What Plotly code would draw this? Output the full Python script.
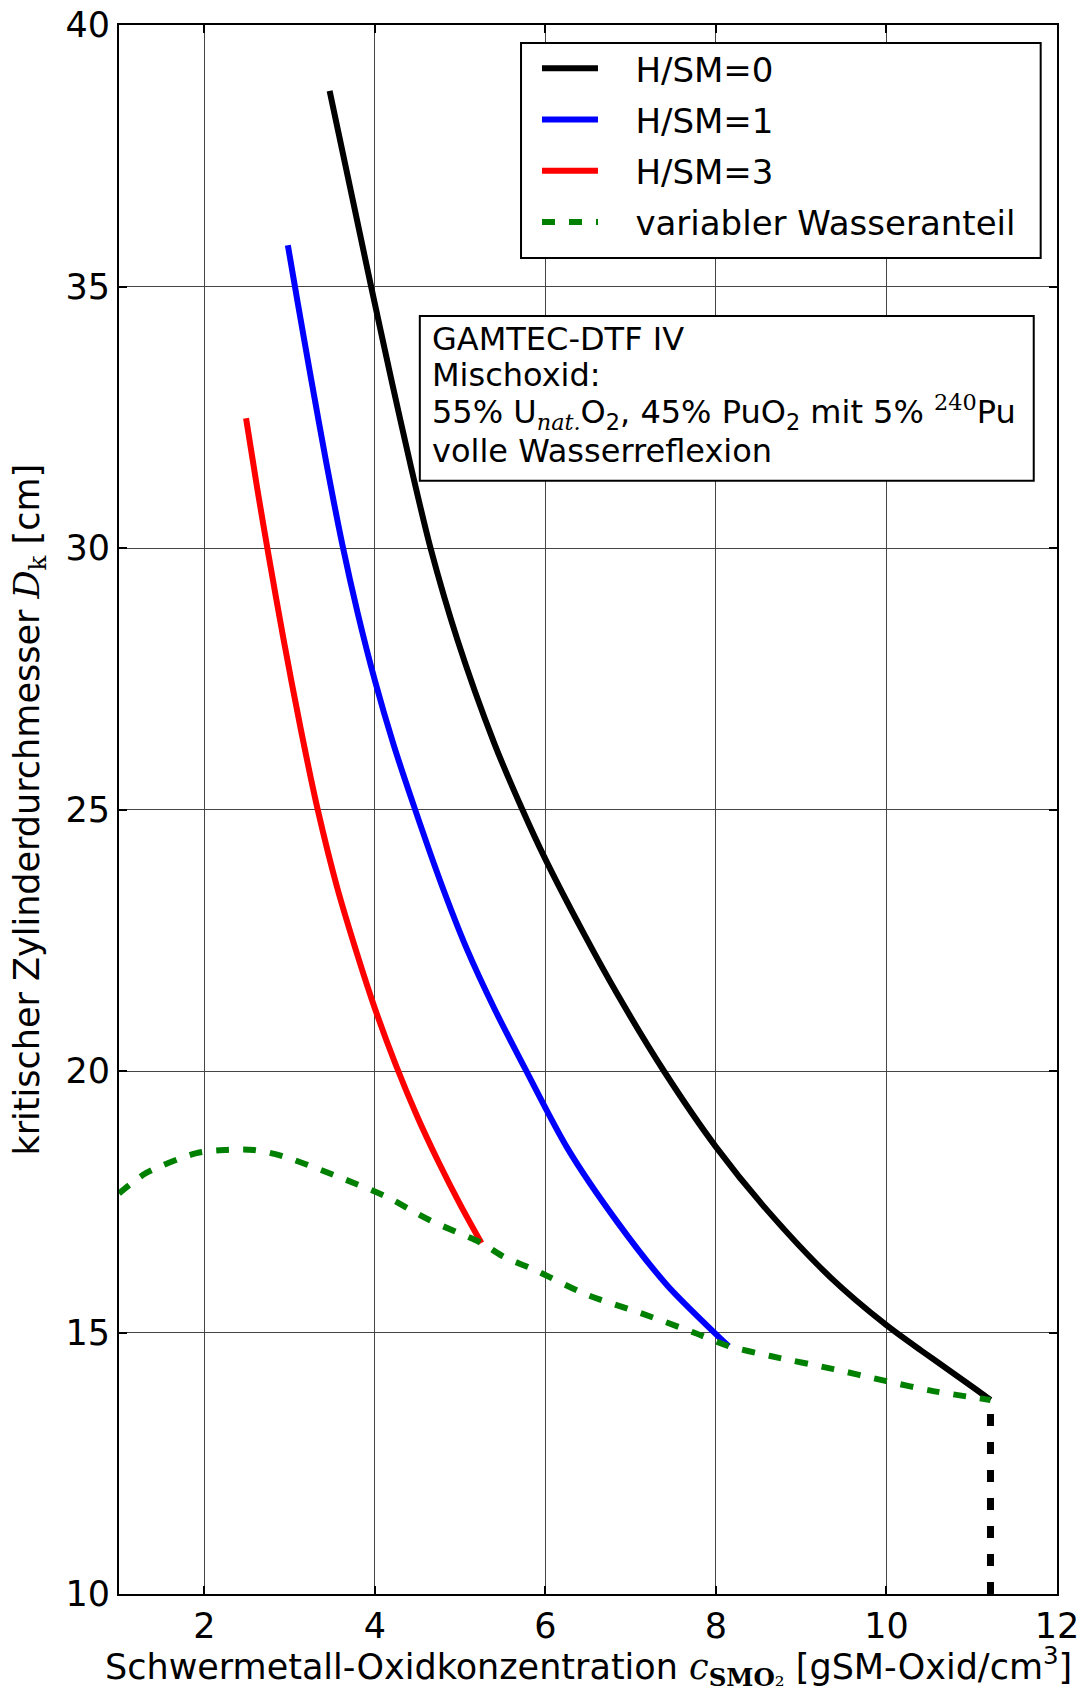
import plotly.graph_objects as go

# Kritischer Zylinderdurchmesser ueber Schwermetall-Oxidkonzentration (MOX, GAMTEC-DTF IV)

# H/SM=0
x_hsm0 = [3.47, 3.72, 3.95, 4.19, 4.42, 4.65, 4.97, 5.40, 5.73, 6.00, 6.45, 6.84,
          7.39, 8.00, 8.60, 9.34, 10.00, 10.42, 10.75, 11.06, 11.22]
y_hsm0 = [38.74, 36.82, 35.05, 33.25, 31.58, 30.02, 28.24, 26.27, 25.00, 24.05, 22.63, 21.48,
          20.00, 18.55, 17.34, 16.06, 15.14, 14.64, 14.26, 13.90, 13.71]

# H/SM=1
x_hsm1 = [2.98, 3.10, 3.25, 3.43, 3.62, 3.80, 4.00, 4.22, 4.46, 4.77, 5.08, 5.40,
          5.77, 6.26, 6.84, 7.43, 8.00, 8.15]
y_hsm1 = [35.79, 34.65, 33.26, 31.64, 30.06, 28.75, 27.47, 26.24, 25.06, 23.62, 22.33, 21.20,
          20.02, 18.52, 17.12, 15.90, 14.97, 14.74]

# H/SM=3
x_hsm3 = [2.49, 2.62, 2.75, 2.93, 3.13, 3.33, 3.56, 3.79, 4.00, 4.25, 4.50, 4.75, 5.00, 5.25]
y_hsm3 = [32.48, 31.15, 29.90, 28.25, 26.55, 25.00, 23.50, 22.25, 21.20, 20.10, 19.12, 18.25, 17.45, 16.71]

# variabler Wasseranteil
x_var = [1.00, 1.32, 1.91, 2.26, 2.58, 2.92, 3.52, 4.13, 4.64, 5.25, 5.51, 5.87,
         6.49, 7.12, 7.74, 8.15, 8.64, 9.38, 10.00, 10.55, 11.22]
y_var = [17.66, 18.05, 18.43, 18.49, 18.49, 18.37, 18.01, 17.60, 17.15, 16.71, 16.45, 16.20,
         15.72, 15.37, 15.00, 14.74, 14.55, 14.30, 14.07, 13.88, 13.71]

# senkrechte Begrenzung bei maximaler Dichte (von unten nach oben gezeichnet)
x_limit = [11.22, 11.22]
y_limit = [10.0, 13.71]

x_ticks = [2, 4, 6, 8, 10, 12]
y_ticks = [10, 15, 20, 25, 30, 35, 40]

FONT = "DejaVu Sans"
MATH = "font-family:'DejaVu Serif'"
GAP = "\u00a0\u00a0\u00a0"  # Abstand zwischen Linienmuster und Legendentext

fig = go.Figure()
fig.add_trace(go.Scatter(x=x_hsm0, y=y_hsm0, mode="lines", name=GAP + "H/SM=0",
                         legendgroup="a", line=dict(color="black", width=6, shape="spline", smoothing=0.8)))
fig.add_trace(go.Scatter(x=x_hsm1, y=y_hsm1, mode="lines", name=GAP + "H/SM=1",
                         legendgroup="b", line=dict(color="blue", width=6, shape="spline", smoothing=0.8)))
fig.add_trace(go.Scatter(x=x_hsm3, y=y_hsm3, mode="lines", name=GAP + "H/SM=3",
                         legendgroup="c", line=dict(color="red", width=6, shape="spline", smoothing=0.8)))
fig.add_trace(go.Scatter(x=x_var, y=y_var, mode="lines", name=GAP + "variabler Wasseranteil",
                         legendgroup="d",
                         line=dict(color="green", width=6, dash="13px,14px", shape="spline", smoothing=0.8)))
fig.add_trace(go.Scatter(x=x_limit, y=y_limit, mode="lines", showlegend=False,
                         line=dict(color="black", width=7, dash="12px,16px")))

axis_common = dict(
    showline=True, linecolor="black", linewidth=2, mirror="allticks",
    ticks="inside", ticklen=8, tickwidth=1.5, tickcolor="black",
    showgrid=True, gridcolor="#444444", gridwidth=1,
    zeroline=False, automargin=False, ticklabeloverflow="allow",
    tickfont=dict(family=FONT, size=35, color="black"),
)
fig.update_xaxes(range=[1, 12], tickvals=x_ticks, **axis_common)
fig.update_yaxes(range=[10, 40], tickvals=y_ticks, **axis_common)

# Achsentitel
fig.add_annotation(
    xref="paper", yref="paper", x=0.5, y=-0.0459, xanchor="center", yanchor="middle",
    showarrow=False, font=dict(family=FONT, size=35, color="black"),
    text=("Schwermetall-Oxidkonzentration "
          f"<span style=\"{MATH}\"><i>c</i><sub><b>SMO</b>₂</sub></span> "
          "[gSM-Oxid/cm<sup>3</sup>]"),
)
fig.add_annotation(
    xref="paper", yref="paper", x=-0.0959, y=0.5, xanchor="center", yanchor="middle",
    textangle=-90, showarrow=False, font=dict(family=FONT, size=35, color="black"),
    text=f"kritischer Zylinderdurchmesser <span style=\"{MATH}\"><i>D</i><sub>k</sub></span> [cm]",
)

# Legendenrahmen und Textkasten
fig.add_shape(type="rect", xref="paper", yref="paper", x0=0.4286, x1=0.9826, y0=0.8515, y1=0.9885,
              line=dict(color="black", width=2), fillcolor="white", layer="above")
fig.add_shape(type="rect", xref="paper", yref="paper", x0=0.3207, x1=0.9752, y0=0.7096, y1=0.8145,
              line=dict(color="black", width=2), fillcolor="white", layer="above")

box_lines = [
    "GAMTEC-DTF IV",
    "Mischoxid:",
    (f"55% U<sub><span style=\"{MATH}\"><i>nat.</i></span></sub>O<sub>2</sub>, "
     f"45% PuO<sub>2</sub> mit 5% <sup><span style=\"{MATH}\">240</span></sup>Pu"),
    "volle Wasserreflexion",
]
box_y = [0.7999, 0.7769, 0.7532, 0.7287]
for txt, yy in zip(box_lines, box_y):
    fig.add_annotation(xref="paper", yref="paper", x=0.3319, y=yy, xanchor="left", yanchor="middle",
                       align="left", showarrow=False, text=txt,
                       font=dict(family=FONT, size=32, color="black"))

# die Seite hat 8px Rand, daher Breite/Hoehe und Raender entsprechend kleiner
fig.update_layout(
    width=1078, height=1685,
    margin=dict(l=111, r=29, t=17, b=99),
    paper_bgcolor="white", plot_bgcolor="white",
    font=dict(family=FONT, color="black"),
    legend=dict(
        x=0.4456, y=0.9906, xanchor="left", yanchor="top",
        bgcolor="rgba(0,0,0,0)", borderwidth=0,
        font=dict(family=FONT, size=34, color="black"),
        traceorder="grouped", tracegroupgap=4, itemwidth=56,
    ),
)

fig.write_html("out.html")
